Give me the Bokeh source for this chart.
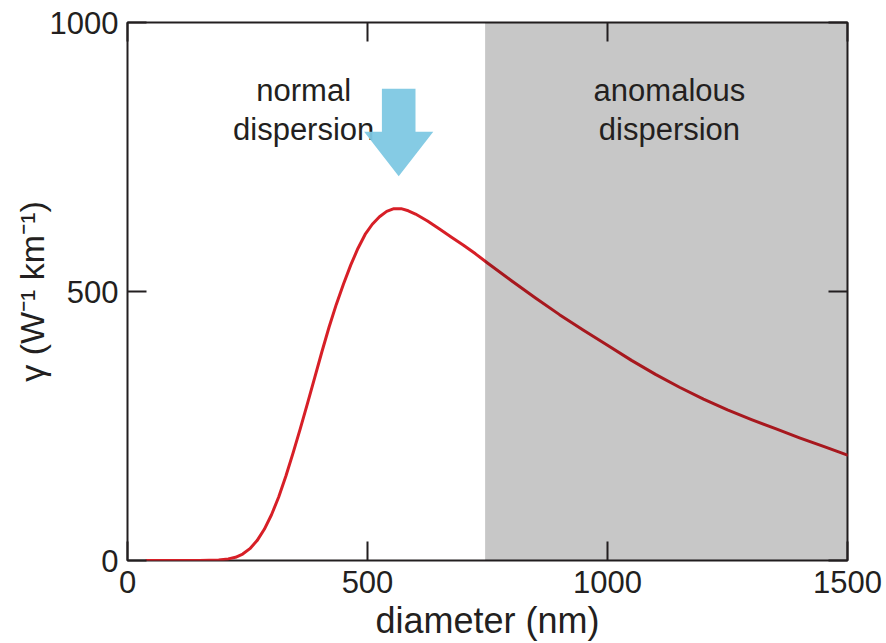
from bokeh.plotting import figure
from bokeh.models import LinearAxis, Range1d, FixedTicker
from bokeh.embed import file_html
from bokeh.resources import INLINE
from bokeh.core.properties import value

# ---- data ----
diameter_nm = [40, 100, 150, 190, 210, 225, 240, 255, 270, 285, 300, 315, 330, 345,
               360, 375, 390, 405, 420, 435, 450, 465, 480, 495, 510, 525, 540, 555,
               570, 585, 600, 625, 650, 675, 700, 725, 750, 800, 850, 900, 950, 1000,
               1050, 1100, 1150, 1200, 1250, 1300, 1350, 1400, 1450, 1500]
gamma = [0, 0, 0, 1, 3, 6, 12, 22, 37, 58, 85, 118, 157, 200,
         245, 292, 340, 388, 434, 476, 514, 549, 580, 606, 625, 639, 649, 654,
         654, 650, 644, 631, 616, 601, 586, 570, 553, 520, 488, 457, 428, 400,
         372, 346, 322, 300, 280, 262, 245, 228, 212, 196]

x_ticks = [0, 500, 1000, 1500]
y_ticks = [0, 500, 1000]

anomalous_start = 745
anomalous_end = 1500

# arrow marking the optimum diameter (data units)
arrow_center = 565
arrow_shaft_half = 35
arrow_head_half = 72
arrow_top = 877
arrow_head_base = 797
arrow_tip = 714

normal_label = ["normal", "dispersion"]
anomalous_label = ["anomalous", "dispersion"]

FONT = "Liberation Sans"
TXT = "#231f20"

p = figure(width=886, height=643,
           x_range=Range1d(0, 1500), y_range=Range1d(0, 1000),
           output_backend="svg", toolbar_location=None,
           min_border_left=127, min_border_right=39, min_border_top=22,
           min_border_bottom=83)
p.background_fill_color = "white"
p.border_fill_color = "white"
p.grid.visible = False
p.outline_line_color = "#231f20"
p.outline_line_width = 2
p.outline_line_alpha = 1

for ax in (p.xaxis[0], p.yaxis[0]):
    ax.major_tick_in = 19
    ax.major_tick_out = 0
    ax.minor_tick_line_color = None
    ax.major_tick_line_width = 2
    ax.major_tick_line_color = TXT
    ax.axis_line_color = None
    ax.major_label_text_font = FONT
    ax.major_label_text_font_size = "31px"
    ax.major_label_text_color = TXT
    ax.axis_label_text_font = FONT
    ax.axis_label_text_font_style = "normal"
    ax.axis_label_text_color = TXT

p.xaxis[0].ticker = FixedTicker(ticks=x_ticks)
p.yaxis[0].ticker = FixedTicker(ticks=y_ticks)
p.xaxis[0].axis_label = "diameter (nm)"
p.yaxis[0].axis_label = "γ (W⁻¹ km⁻¹)"
p.xaxis[0].axis_label_text_font_size = "36px"
p.yaxis[0].axis_label_text_font_size = "34px"
p.xaxis[0].major_label_standoff = 10
p.yaxis[0].major_label_standoff = 9
p.xaxis[0].axis_label_standoff = 4
p.yaxis[0].axis_label_standoff = -4

# tick marks on the top and right edges (no labels)
for loc, ticks in (("above", x_ticks), ("right", y_ticks)):
    a = LinearAxis(ticker=FixedTicker(ticks=ticks))
    a.major_tick_in = 19
    a.major_tick_out = 0
    a.minor_tick_line_color = None
    a.major_tick_line_width = 2
    a.major_tick_line_color = TXT
    a.axis_line_color = None
    a.major_label_overrides = {t: "" for t in ticks}
    a.major_label_text_font_size = "2px"
    a.major_label_standoff = 0
    p.add_layout(a, loc)

# curve
p.line(diameter_nm, gamma, line_color="#d71f27", line_width=3,
       line_join="round", line_cap="round")

# shaded anomalous dispersion region (semi-opaque, darkens the curve beneath)
p.quad(left=[anomalous_start], right=[anomalous_end], bottom=[0], top=[1000],
       fill_color="black", fill_alpha=0.22, line_color=None)

# region labels
p.text(x=[367, 367], y=[873, 802], text=normal_label,
       text_font=value(FONT), text_font_size="31px", text_color=TXT,
       text_align="center", text_baseline="middle")
p.text(x=[1129, 1129], y=[873, 802], text=anomalous_label,
       text_font=value(FONT), text_font_size="31px", text_color=TXT,
       text_align="center", text_baseline="middle")

# arrow
ax_pts = [arrow_center - arrow_shaft_half, arrow_center + arrow_shaft_half,
          arrow_center + arrow_shaft_half, arrow_center + arrow_head_half,
          arrow_center, arrow_center - arrow_head_half,
          arrow_center - arrow_shaft_half]
ay_pts = [arrow_top, arrow_top, arrow_head_base, arrow_head_base,
          arrow_tip, arrow_head_base, arrow_head_base]
p.patch(ax_pts, ay_pts, fill_color="#7ec8e3", fill_alpha=0.95, line_color=None)

open("out.html", "w").write(file_html(p, INLINE))
